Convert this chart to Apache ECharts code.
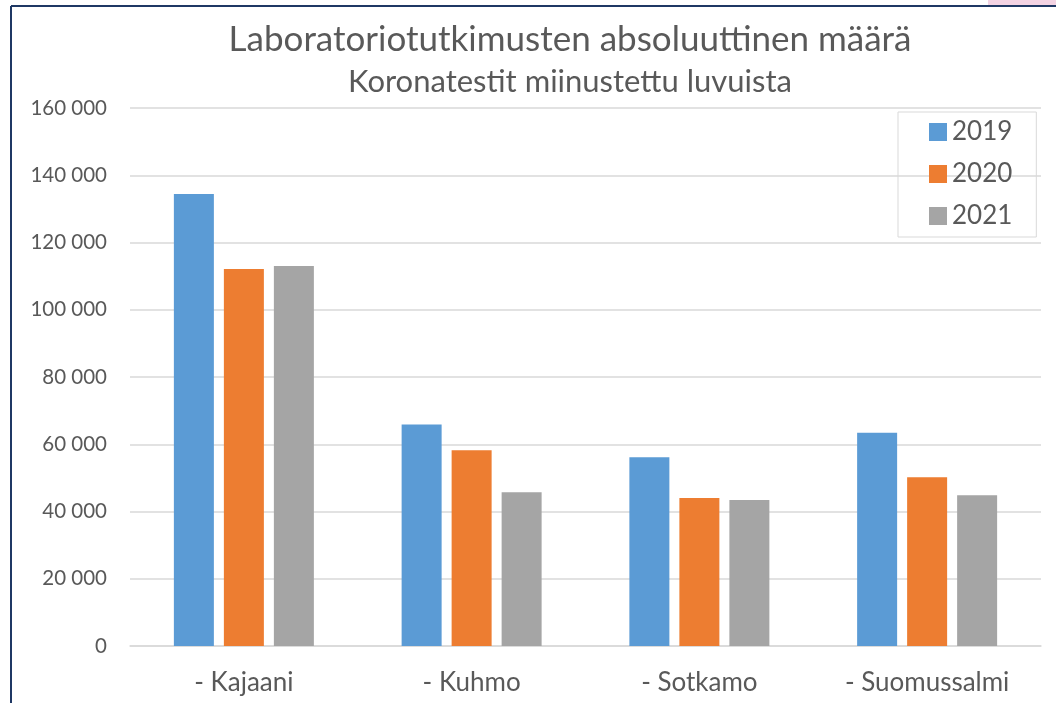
<!DOCTYPE html>
<html>
<head>
<meta charset="utf-8">
<script src="https://cdn.jsdelivr.net/npm/echarts@6/dist/echarts.min.js"></script>
<style>
  html, body { margin: 0; padding: 0; background: #fff; }
  #chart { width: 1056px; height: 703px; }
</style>
</head>
<body>
<div id="chart"></div>
<script>
// kunnat ja vuodet
const categories = ['- Kajaani', '- Kuhmo', '- Sotkamo', '- Suomussalmi']
const years = ['2019', '2020', '2021']
const values2019 = [134400, 65900, 56100, 63400]
const values2020 = [112100, 58200, 44000, 50200]
const values2021 = [113000, 45700, 43400, 44800]
const colors = ['#5b9bd5', '#ed7d31', '#a5a5a5']

const font = 'Lato, "Open Sans", sans-serif'
const textColor = '#595959'

const myChart = echarts.init(document.getElementById('chart'))

const seriesData = [values2019, values2020, values2021]

myChart.setOption({
  backgroundColor: '#fff',
  animation: false,
  color: colors,
  title: {
    text: 'Laboratoriotutkimusten absoluuttinen määrä',
    subtext: 'Koronatestit miinustettu luvuista',
    left: 565,
    top: 17,
    textAlign: 'center',
    itemGap: 9,
    textStyle: {
      fontFamily: font,
      fontSize: 35,
      fontWeight: 'normal',
      color: textColor
    },
    subtextStyle: {
      fontFamily: font,
      fontSize: 31,
      color: textColor
    }
  },
  legend: {
    orient: 'vertical',
    left: 898,
    top: 112,
    data: years,
    itemWidth: 18,
    itemHeight: 18,
    itemGap: 16,
    borderColor: '#d9d9d9',
    borderWidth: 1,
    padding: [7, 24, 8, 31],
    icon: 'rect',
    textStyle: {
      fontFamily: font,
      fontSize: 26,
      color: textColor
    }
  },
  grid: {
    left: 130,
    right: 15,
    top: 108,
    bottom: 57,
    containLabel: false
  },
  xAxis: {
    type: 'category',
    data: categories,
    axisTick: { show: false },
    axisLine: { show: true, lineStyle: { color: '#d9d9d9', width: 1.5 } },
    axisLabel: {
      fontFamily: font,
      fontSize: 26,
      color: textColor,
      margin: 24
    }
  },
  yAxis: {
    type: 'value',
    min: 0,
    max: 160000,
    interval: 20000,
    axisLine: { show: false },
    axisTick: { show: false },
    splitLine: { lineStyle: { color: '#d9d9d9', width: 1.5 } },
    axisLabel: {
      fontFamily: font,
      fontSize: 20.5,
      color: textColor,
      margin: 23,
      formatter: v => String(v).replace(/\B(?=(\d{3})+(?!\d))/g, ' ')
    }
  },
  series: years.map((y, i) => ({
    name: y,
    type: 'bar',
    barWidth: 40,
    barGap: '25%',
    data: seriesData[i],
    itemStyle: { color: colors[i] }
  })),
  graphic: [
    // reunaviivat
    {
      type: 'rect',
      shape: { x: 988, y: 0, width: 68, height: 6 },
      style: { fill: '#f3d3e3' },
      silent: true
    },
    {
      type: 'line',
      shape: { x1: 11, y1: 6, x2: 1056, y2: 6 },
      style: { stroke: '#1f3864', lineWidth: 2 },
      silent: true
    },
    {
      type: 'line',
      shape: { x1: 11, y1: 6, x2: 11, y2: 703 },
      style: { stroke: '#1f3864', lineWidth: 2 },
      silent: true
    }
  ]
})
</script>
</body>
</html>
